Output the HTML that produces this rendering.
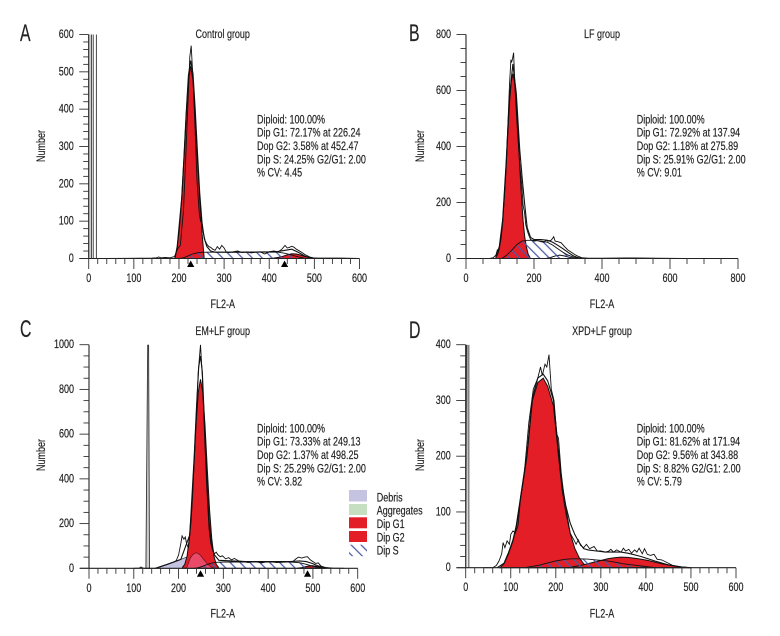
<!DOCTYPE html>
<html>
<head>
<meta charset="utf-8">
<title>Cell cycle histograms</title>
<style>
html,body{margin:0;padding:0;background:#fff;width:780px;height:636px;overflow:hidden}
svg{display:block}
text{font-family:"Liberation Sans",sans-serif;fill:#222;stroke:#222;stroke-width:.18px}
.t{font-size:12px}
.l{font-size:24px}
</style>
</head>
<body>
<svg id="chart" xmlns="http://www.w3.org/2000/svg" width="780" height="636" viewBox="0 0 780 636">
<defs>
<pattern id="hatch" patternUnits="userSpaceOnUse" width="7" height="7" patternTransform="rotate(-45)">
<line x1="3" y1="0" x2="3" y2="7" stroke="#4a5aa8" stroke-width="1.25"/>
</pattern>
<linearGradient id="bandDark" x1="0" y1="0" x2="0" y2="1">
<stop offset="0" stop-color="#333"/><stop offset="1" stop-color="#ddd"/>
</linearGradient>
</defs>

<g>
<text class="l" transform="translate(20,41) scale(.66,1)">A</text>
<text class="t" text-anchor="middle" transform="translate(222.7,38) scale(.75,1)">Control group</text>
<text class="t" transform="translate(257,123.3) scale(.75,1)">Diploid: 100.00%</text>
<text class="t" transform="translate(257,136.7) scale(.75,1)">Dip G1: 72.17% at 226.24</text>
<text class="t" transform="translate(257,150) scale(.75,1)">Dop G2: 3.58% at 452.47</text>
<text class="t" transform="translate(257,163.3) scale(.75,1)">Dip S: 24.25% G2/G1: 2.00</text>
<text class="t" transform="translate(257,176.7) scale(.75,1)">% CV: 4.45</text>
<text class="t" text-anchor="middle" transform="translate(45,146) rotate(-90) scale(.75,1)">Number</text>
<text class="t" text-anchor="middle" transform="translate(222.7,308) scale(.75,1)">FL2-A</text>
</g>

<g>
<text class="l" transform="translate(409,41) scale(.66,1)">B</text>
<text class="t" text-anchor="middle" transform="translate(602,38) scale(.75,1)">LF group</text>
<text class="t" transform="translate(636.7,123.3) scale(.75,1)">Diploid: 100.00%</text>
<text class="t" transform="translate(636.7,136.7) scale(.75,1)">Dip G1: 72.92% at 137.94</text>
<text class="t" transform="translate(636.7,150) scale(.75,1)">Dop G2: 1.18% at 275.89</text>
<text class="t" transform="translate(636.7,163.3) scale(.75,1)">Dip S: 25.91% G2/G1: 2.00</text>
<text class="t" transform="translate(636.7,176.7) scale(.75,1)">% CV: 9.01</text>
<text class="t" text-anchor="middle" transform="translate(424,146) rotate(-90) scale(.75,1)">Number</text>
<text class="t" text-anchor="middle" transform="translate(602,308) scale(.75,1)">FL2-A</text>
</g>

<g>
<text class="l" transform="translate(20,337) scale(.66,1)">C</text>
<text class="t" text-anchor="middle" transform="translate(222.7,335) scale(.75,1)">EM+LF group</text>
<text class="t" transform="translate(257,432.3) scale(.75,1)">Diploid: 100.00%</text>
<text class="t" transform="translate(257,445.7) scale(.75,1)">Dip G1: 73.33% at 249.13</text>
<text class="t" transform="translate(257,459) scale(.75,1)">Dop G2: 1.37% at 498.25</text>
<text class="t" transform="translate(257,472.3) scale(.75,1)">Dip S: 25.29% G2/G1: 2.00</text>
<text class="t" transform="translate(257,485.7) scale(.75,1)">% CV: 3.82</text>
<text class="t" text-anchor="middle" transform="translate(45,455) rotate(-90) scale(.75,1)">Number</text>
<text class="t" text-anchor="middle" transform="translate(222.7,617.3) scale(.75,1)">FL2-A</text>
</g>

<g>
<text class="l" transform="translate(409,338) scale(.66,1)">D</text>
<text class="t" text-anchor="middle" transform="translate(602,335) scale(.75,1)">XPD+LF group</text>
<text class="t" transform="translate(636.7,432.3) scale(.75,1)">Diploid: 100.00%</text>
<text class="t" transform="translate(636.7,445.7) scale(.75,1)">Dip G1: 81.62% at 171.94</text>
<text class="t" transform="translate(636.7,459) scale(.75,1)">Dop G2: 9.56% at 343.88</text>
<text class="t" transform="translate(636.7,472.3) scale(.75,1)">Dip S: 8.82% G2/G1: 2.00</text>
<text class="t" transform="translate(636.7,485.7) scale(.75,1)">% CV: 5.79</text>
<text class="t" text-anchor="middle" transform="translate(424,455) rotate(-90) scale(.75,1)">Number</text>
<text class="t" text-anchor="middle" transform="translate(602,617.3) scale(.75,1)">FL2-A</text>
</g>

<g>
<rect x="349" y="490" width="18" height="11.5" fill="#c5c3e2"/>
<rect x="349" y="504" width="18" height="11" fill="#c6dfc1"/>
<rect x="349" y="517.3" width="18" height="11" fill="#e31e26"/>
<rect x="349" y="531" width="18" height="11" fill="#e31e26"/>
<rect x="349" y="544.7" width="18" height="11.5" fill="url(#hatch)"/>
<text class="t" transform="translate(376.7,501.3) scale(.75,1)">Debris</text>
<text class="t" transform="translate(376.7,514.7) scale(.75,1)">Aggregates</text>
<text class="t" transform="translate(376.7,528) scale(.75,1)">Dip G1</text>
<text class="t" transform="translate(376.7,541.3) scale(.75,1)">Dip G2</text>
<text class="t" transform="translate(376.7,554.7) scale(.75,1)">Dip S</text>
</g>
</svg>

<script>
// ---------- Panel A ----------
const aXTicks = [0,100,200,300,400,500,600];
const aYTicks = [0,100,200,300,400,500,600];
const aMarkers = [226,434];
const aSpikeLines = [6,10,17];
const aBand = [0,6];
const aG1Ch = [191,196,201,206,211,216,221,226,231,236,241,246,251,256];
const aG1N = [0,30,80,160,265,383,478,515,478,383,265,160,70,0];
const aSCh = [200,210,220,230,240,250,260,300,350,400,420,435,450,465,480];
const aSN = [0,2,7,12,15,16.5,17,17,17,17,17,14,9,4,0];
const aG2Ch = [395,410,420,430,440,450,460,470,480,490,505];
const aG2N = [0,1,3,6,10,12.5,12,9,5,2,0];
const aFitCh = [191,196,206,211,216,221,226,231,236,241,246,251,256,262,270,280,300,350,400,420,435,450,465,480,495,510];
const aFitN = [0,32,161,268,390,490,530,495,400,282,176,97,54,32,20,17,17,17,18,19,22,25,16,6,1,0];
const aRawCh = [40,140,150,155,160,170,180,190,195,198,203,210,215,220,224,227,231,236,240,245,248,250,253,258,262,266,270,275,280,285,290,295,300,305,310,320,330,340,350,360,370,380,390,400,410,420,428,435,440,445,450,455,460,470,480,490,500,530,560,600];
const aRawN = [0,1,2,4,2,3,2,5,20,28,35,130,270,420,540,570,480,340,210,120,100,102,75,48,38,32,30,25,22,32,25,35,28,17,16,18,20,16,18,15,17,18,12,18,20,18,25,35,28,30,33,30,25,18,10,4,1,1,1,0];

// ---------- Panel B ----------
const bXTicks = [0,200,400,600,800];
const bYTicks = [0,200,400,600,800];
const bMarkers = [];
const bSpikeLines = [];
const bBand = [];
const bG1Ch = [88,93,98,103,108,113,118,123,128,133,138,143,148,153,158,163,168,173,178,183,188];
const bG1N = [5,15,40,75,135,225,330,445,555,630,660,630,555,445,330,225,135,75,40,15,5];
const bSCh = [105,120,135,150,165,180,200,220,240,255,270,285,300,315,330];
const bSN = [0,12,30,50,62,65,65,63,58,48,35,22,12,5,1];
const bG2Ch = [235,250,265,276,290,305,320];
const bG2N = [0,4,10,12,9,4,0];
const bFitCh = [88,98,108,118,128,138,148,158,165,172,180,190,200,220,240,255,270,285,300,315,330,345];
const bFitN = [5,42,140,340,580,695,590,390,290,200,110,75,68,68,65,58,47,35,22,10,3,0];
const bRawCh = [70,80,88,92,95,98,103,108,118,128,132,134,137,140,144,150,158,164,168,172,176,180,184,190,200,210,220,230,235,240,250,255,258,262,270,280,290,300,310,320,330,340,360,400,470,560,640];
const bRawN = [0,3,12,30,22,35,70,130,320,620,710,700,715,735,610,480,340,260,190,165,120,100,85,68,62,64,60,58,66,62,65,72,78,62,60,56,42,30,22,14,8,3,1,1,2,1,0];

// ---------- Panel C ----------
const cXTicks = [0,100,200,300,400,500,600];
const cYTicks = [0,200,400,600,800,1000];
const cMarkers = [249,488];
const cSpikeCh = [127,131,133,135];
const cSpikeN = [0,1000,1000,0];
const cG1Ch = [209,214,219,224,229,234,239,244,249,254,259,264,269,274,279,284,289];
const cG1N = [5,18,55,135,265,450,640,790,845,790,640,450,265,135,55,18,5];
const cDebrisCh = [148,160,175,190,205,218,226,232,240,248,256,264,272,280];
const cDebrisN = [0,8,18,28,40,50,58,65,70,60,40,20,7,0];
const cBumpCh = [218,226,232,240,248,256,264,272,280];
const cBumpN = [0,45,62,70,60,40,20,7,0];
const cSCh = [235,245,255,265,275,285,300,350,400,450,470,485,500,515,530];
const cSN = [0,3,10,18,24,27,28,28,28,28,25,18,9,3,0];
const cG2Ch = [465,475,485,498,510,520,530];
const cG2N = [0,3,8,12,8,3,0];
const cFitCh = [148,175,205,225,235,240,245,249,253,258,263,268,273,280,290,350,400,450,470,485,498,510,525,540];
const cFitN = [0,18,40,150,500,720,900,950,880,650,400,210,110,60,36,30,30,30,33,30,22,12,4,0];
const cRawCh = [100,112,116,122,150,175,190,195,200,205,208,212,215,218,222,228,232,238,244,249,253,258,263,268,272,276,280,284,288,293,298,305,312,318,325,335,345,355,370,385,400,420,440,455,462,468,475,482,488,494,500,506,512,518,528,545,570];
const cRawN = [0,1,6,0,0,18,28,35,60,110,145,130,140,110,90,210,350,620,880,1000,860,600,360,180,110,80,65,72,60,52,56,42,48,38,44,32,30,26,30,24,30,26,28,30,42,50,46,50,52,38,30,22,24,10,3,1,0];

// ---------- Panel D ----------
const dXTicks = [0,100,200,300,400,500,600];
const dYTicks = [0,100,200,300,400];
const dMarkers = [];
const dSpikeLines = [7];
const dBand = [0,4];
const dG1Ch = [76,85,95,105,112,122,136,148,160,172,182,195,206,214,222,232,242,252,262,272,282];
const dG1N = [0,7,25,48,72,125,200,300,332,340,325,290,200,140,100,62,35,18,7,2,0];
const dSCh = [130,145,160,180,200,220,235,250,270,290,310,330,350,370,390,410,425];
const dSN = [0,2,4,8,12,15,16,16,15.5,14,12.5,10,7,5,3,1,0];
const dG2Ch = [225,240,255,270,285,300,315,330,344,360,375,390,405,420,435,450,465,480,500];
const dG2N = [0,2,4,7,10,13,16,18,19,18.5,17,15,13,10,7,5,3,1,0];
const dFitCh = [70,85,95,105,112,122,136,148,160,172,182,195,206,214,222,232,242,252,262,272,290,310,330,344,360,390,420,450,480,500];
const dFitN = [0,8,27,50,75,128,205,305,340,347,335,300,210,150,112,80,60,45,34,32,30,28,28,28,26,20,12,5,1,0];
const dRawCh = [40,60,68,74,80,83,87,92,97,100,105,110,116,122,130,140,150,160,166,170,176,180,185,190,196,202,206,212,218,224,232,240,245,250,255,262,268,275,285,292,300,310,318,322,328,335,345,350,355,362,368,375,380,385,392,397,403,410,418,425,435,445,460,480,500];
const dRawN = [0,0,4,12,25,45,36,48,42,60,66,62,75,128,170,260,320,340,360,345,365,360,382,320,300,240,232,170,130,100,62,50,42,50,40,36,42,34,38,30,30,28,30,33,28,32,28,35,30,33,26,32,28,35,25,34,24,22,24,15,14,10,4,1,0];

const NS = 'http://www.w3.org/2000/svg';
const root = document.getElementById('chart');

function mk(parent, tag, attrs) {
  const el = document.createElementNS(NS, tag);
  for (const k in attrs) el.setAttribute(k, attrs[k]);
  parent.appendChild(el);
  return el;
}

function drawPanel(key, cfg) {
  const sx = v => cfg.x0 + (v - 0) * (cfg.x1 - cfg.x0) / cfg.xMax;
  const sy = v => cfg.y0 - (v - 0) * (cfg.y0 - cfg.y1) / cfg.yMax;
  const pts = (c, n) => c.map((v, i) => sx(v).toFixed(1) + ',' + sy(n[i]).toFixed(1)).join(' ');
  const closed = (c, n) => sx(c[0]).toFixed(1) + ',' + sy(0) + ' ' + pts(c, n) + ' ' + sx(c[c.length - 1]).toFixed(1) + ',' + sy(0);

  const g = mk(root, 'g', {});
  
  

  const cp = mk(g, 'clipPath', {id: 'clip-' + key});
  mk(cp, 'rect', {x: cfg.x0, y: cfg.y1, width: cfg.x1 - cfg.x0 + 2, height: cfg.y0 - cfg.y1 + 1});

  const plot = mk(g, 'g', {'clip-path': 'url(#clip-' + key + ')'});
  
  

  if (cfg.band && cfg.band.length) {
    const band = mk(plot, 'rect', {x: sx(cfg.band[0]), y: cfg.y1, width: sx(cfg.band[1]) - sx(cfg.band[0]), height: cfg.y0 - cfg.y1, fill: cfg.bandFill});
    
    
  }
  (cfg.spikeLines || []).forEach(c => {
    const sp = mk(plot, 'line', {x1: sx(c), x2: sx(c), y1: cfg.y1, y2: cfg.y0, stroke: '#333', 'stroke-width': 0.9});
    
    
  });
  if (cfg.spikeCh) {
    const sp = mk(plot, 'polygon', {points: pts(cfg.spikeCh, cfg.spikeN), fill: '#ccc', stroke: '#333', 'stroke-width': 0.9});
    
    
  }
  if (cfg.debrisCh) {
    const db = mk(plot, 'polygon', {points: closed(cfg.debrisCh, cfg.debrisN), fill: '#c5c3e2', stroke: '#333', 'stroke-width': 0.7});
    
    
  }

  const g1 = mk(plot, 'polygon', {points: closed(cfg.g1Ch, cfg.g1N), fill: '#e31e26', stroke: '#111', 'stroke-width': 1});
  
  

  if (cfg.bumpCh) {
    const bp = mk(plot, 'polygon', {points: closed(cfg.bumpCh, cfg.bumpN), fill: '#e84a68', stroke: '#6a1020', 'stroke-width': 0.7});
    
    
  }

  const g2 = mk(plot, 'polygon', {points: closed(cfg.g2Ch, cfg.g2N), fill: cfg.g2Fill || '#e31e26', stroke: '#111', 'stroke-width': 1});
  
  

  const s = mk(plot, 'polygon', {points: closed(cfg.sCh, cfg.sN), fill: 'url(#hatch)', stroke: '#111', 'stroke-width': 0.9});
  
  

  const fit = mk(plot, 'polyline', {points: pts(cfg.fitCh, cfg.fitN), fill: 'none', stroke: '#111', 'stroke-width': 1.1});
  
  

  const raw = mk(plot, 'polyline', {points: pts(cfg.rawCh, cfg.rawN), fill: 'none', stroke: '#111', 'stroke-width': 0.9});
  
  

  // axes
  const yAxis = mk(g, 'line', {x1: cfg.x0, x2: cfg.x0, y1: cfg.y1, y2: cfg.y0, stroke: '#222', 'stroke-width': cfg.yAxisWidth || 1.1});
  
  
  const xAxis = mk(g, 'line', {x1: cfg.x0 - 9, x2: cfg.x1, y1: cfg.y0, y2: cfg.y0, stroke: '#222', 'stroke-width': 1.1});
  
  

  for (let v = 0; v <= cfg.xMax; v += cfg.xMinor) {
    const major = cfg.xTicks.indexOf(v) >= 0;
    const t = mk(g, 'line', {x1: sx(v), x2: sx(v), y1: cfg.y0, y2: cfg.y0 + (major ? 10.5 : 5.5), stroke: '#333', 'stroke-width': 0.9});
    
    
  }
  for (let v = 0; v <= cfg.yMax; v += cfg.yMinor) {
    const major = cfg.yTicks.indexOf(v) >= 0;
    const t = mk(g, 'line', {x1: cfg.x0 - (major ? 9.5 : 5.5), x2: cfg.x0, y1: sy(v), y2: sy(v), stroke: '#333', 'stroke-width': 0.9});
    
    
  }
  cfg.xTicks.forEach(v => {
    const t = mk(g, 'text', {class: 't', 'text-anchor': 'middle', transform: 'translate(' + sx(v) + ',' + (cfg.y0 + 23.5) + ') scale(.75,1)'});
    
    
    t.textContent = v;
  });
  cfg.yTicks.forEach(v => {
    const t = mk(g, 'text', {class: 't', 'text-anchor': 'end', transform: 'translate(' + (cfg.x0 - 15) + ',' + (sy(v) + 3.5) + ') scale(.75,1)'});
    
    
    t.textContent = v;
  });
  cfg.markers.forEach(c => {
    const px = sx(c);
    const m = mk(g, 'polygon', {points: (px - 3.6) + ',' + (cfg.y0 + 8.5) + ' ' + (px + 3.6) + ',' + (cfg.y0 + 8.5) + ' ' + px + ',' + (cfg.y0 + 2), fill: '#000'});
    
    
  });
}

drawPanel('a', {x0: 88.7, x1: 359.5, y0: 258.5, y1: 34.5, xMax: 600, yMax: 600, xMinor: 20, yMinor: 20,
  xTicks: aXTicks, yTicks: aYTicks, markers: aMarkers, band: aBand, bandFill: '#d4d4d4', spikeLines: aSpikeLines,
  g1Ch: aG1Ch, g1N: aG1N, sCh: aSCh, sN: aSN, g2Ch: aG2Ch, g2N: aG2N, fitCh: aFitCh, fitN: aFitN, rawCh: aRawCh, rawN: aRawN});

drawPanel('b', {x0: 466, x1: 738, y0: 258.5, y1: 34.5, xMax: 800, yMax: 800, xMinor: 50, yMinor: 50,
  xTicks: bXTicks, yTicks: bYTicks, markers: bMarkers, band: bBand, spikeLines: bSpikeLines, g2Fill: 'none',
  g1Ch: bG1Ch, g1N: bG1N, sCh: bSCh, sN: bSN, g2Ch: bG2Ch, g2N: bG2N, fitCh: bFitCh, fitN: bFitN, rawCh: bRawCh, rawN: bRawN});

drawPanel('c', {x0: 89, x1: 357.7, y0: 568.3, y1: 344.7, xMax: 600, yMax: 1000, xMinor: 20, yMinor: 50,
  xTicks: cXTicks, yTicks: cYTicks, markers: cMarkers, spikeCh: cSpikeCh, spikeN: cSpikeN,
  debrisCh: cDebrisCh, debrisN: cDebrisN, bumpCh: cBumpCh, bumpN: cBumpN,
  g1Ch: cG1Ch, g1N: cG1N, sCh: cSCh, sN: cSN, g2Ch: cG2Ch, g2N: cG2N, fitCh: cFitCh, fitN: cFitN, rawCh: cRawCh, rawN: cRawN});

drawPanel('d', {x0: 465.7, x1: 736, y0: 567.7, y1: 344.7, xMax: 600, yMax: 400, xMinor: 20, yMinor: 20,
  xTicks: dXTicks, yTicks: dYTicks, markers: dMarkers, band: dBand, bandFill: 'url(#bandDark)', spikeLines: dSpikeLines,
  g1Ch: dG1Ch, g1N: dG1N, sCh: dSCh, sN: dSN, g2Ch: dG2Ch, g2N: dG2N, fitCh: dFitCh, fitN: dFitN, rawCh: dRawCh, rawN: dRawN});
</script>
</body>
</html>
